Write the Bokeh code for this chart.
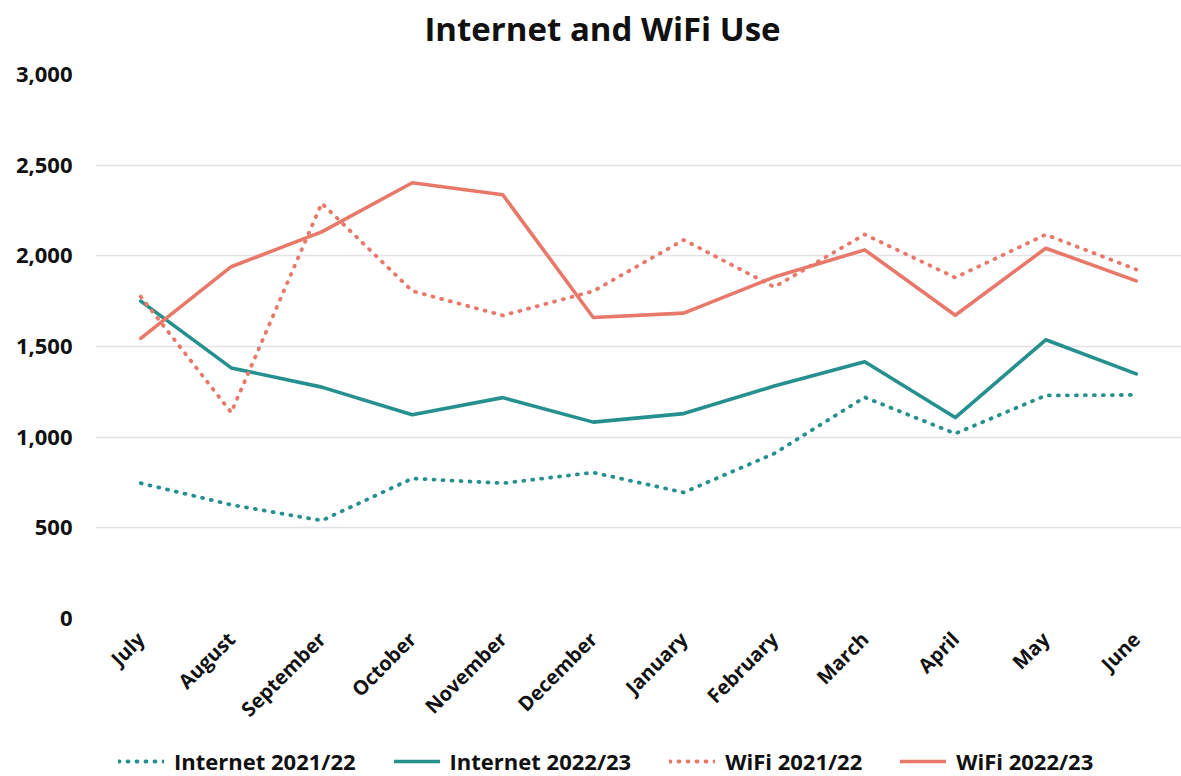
from math import pi

from bokeh.embed import file_html
from bokeh.layouts import column
from bokeh.models import (ColumnDataSource, Legend, LegendItem, NumeralTickFormatter,
                          FixedTicker, Range1d, Label)
from bokeh.plotting import figure
from bokeh.resources import INLINE

# Monthly counts, financial year July–June
months = ["July", "August", "September", "October", "November", "December",
          "January", "February", "March", "April", "May", "June"]
internet_2122 = [746, 627, 540, 772, 746, 805, 695, 910, 1220, 1020, 1230, 1233]
internet_2223 = [1750, 1382, 1276, 1124, 1218, 1083, 1130, 1282, 1416, 1108, 1537, 1349]
wifi_2122 = [1775, 1136, 2290, 1806, 1671, 1805, 2088, 1828, 2118, 1880, 2117, 1925]
wifi_2223 = [1545, 1940, 2132, 2403, 2337, 1660, 1684, 1883, 2033, 1672, 2042, 1862]
y_ticks = [0, 500, 1000, 1500, 2000, 2500, 3000]
series_labels = ["Internet 2021/22", "Internet 2022/23", "WiFi 2021/22", "WiFi 2022/23"]
chart_title = "Internet and WiFi Use"

TEAL = "#25908e"
SALMON = "#e8796a"
FONT = "Open Sans"
INK = "#111111"
W = 1181
LEFT = 95  # left border of the chart; the column aligns every strip's frame to it

source = ColumnDataSource(dict(
    month=months,
    internet_2122=internet_2122,
    internet_2223=internet_2223,
    wifi_2122=wifi_2122,
    wifi_2223=wifi_2223,
))

dot = dict(line_width=3.8, line_dash="1 8", line_cap="round", line_join="round")
solid = dict(line_width=3.6, line_cap="round", line_join="round")
styles = [(TEAL, dot), (TEAL, solid), (SALMON, dot), (SALMON, solid)]
columns = ["internet_2122", "internet_2223", "wifi_2122", "wifi_2223"]


def bare(fig):
    fig.grid.grid_line_color = None
    fig.outline_line_color = None
    fig.background_fill_color = "white"
    fig.border_fill_color = "white"


# --- title strip (x range in page pixels across the aligned frame) ---
head = figure(width=W, height=56, x_range=Range1d(LEFT, W), y_range=Range1d(0, 56),
              x_axis_location=None, y_axis_location=None,
              output_backend="svg", toolbar_location=None,
              min_border_left=LEFT, min_border_right=0, min_border_top=0, min_border_bottom=0)
bare(head)
head.add_layout(Label(
    x=602, y=28, text=chart_title, text_align="center", text_baseline="middle",
    text_font=FONT, text_font_size="33px", text_font_style="bold", text_color=INK,
))

# --- main chart ---
p = figure(
    width=W, height=680,
    x_range=months,
    y_range=Range1d(0, 3000),
    output_backend="svg",
    toolbar_location=None,
    min_border_left=LEFT, min_border_right=0, min_border_top=18, min_border_bottom=118,
)
p.outline_line_color = None
p.background_fill_color = "white"
p.border_fill_color = "white"

p.xaxis.axis_line_color = None
p.yaxis.axis_line_color = None
p.xaxis.major_tick_line_color = None
p.yaxis.major_tick_line_color = None
p.xaxis.minor_tick_line_color = None
p.yaxis.minor_tick_line_color = None
p.xaxis.major_tick_out = 0
p.yaxis.major_tick_out = 0
p.xaxis.major_label_orientation = pi / 4
p.xaxis.major_label_standoff = 17
p.yaxis.major_label_standoff = 23
p.yaxis.ticker = FixedTicker(ticks=y_ticks)
p.yaxis.formatter = NumeralTickFormatter(format="0,0")
for ax in (p.xaxis, p.yaxis):
    ax.major_label_text_font = FONT
    ax.major_label_text_font_style = "bold"
    ax.major_label_text_color = INK
p.yaxis.major_label_text_font_size = "22px"
p.xaxis.major_label_text_font_size = "20px"

p.xgrid.grid_line_color = None
p.ygrid.grid_line_color = "#e2e2e8"
p.ygrid.grid_line_width = 1.5

for col, (color, style) in zip(columns, styles):
    p.line("month", col, source=source, line_color=color, **style)

# --- legend strip: same series, drawn outside its visible range so only the key shows ---
key = figure(width=W, height=40, x_range=months, y_range=Range1d(10000, 10001),
             x_axis_location=None, y_axis_location=None,
             output_backend="svg", toolbar_location=None,
             min_border_left=LEFT, min_border_right=0, min_border_top=0, min_border_bottom=0)
bare(key)
key_renderers = [key.line("month", col, source=source, line_color=color, **style)
                 for col, (color, style) in zip(columns, styles)]

legend = Legend(
    items=[LegendItem(label=lab, renderers=[r]) for lab, r in zip(series_labels, key_renderers)],
    orientation="horizontal",
    location=(118 - LEFT, 0),
    glyph_width=46,
    glyph_height=18,
    label_standoff=10,
    spacing=38,
    label_text_font=FONT,
    label_text_font_size="22px",
    label_text_font_style="bold",
    label_text_color=INK,
    border_line_color=None,
    background_fill_alpha=0,
    padding=0,
    margin=0,
)
key.add_layout(legend, "center")

layout = column(head, p, key, spacing=0)
open("out.html", "w").write(file_html(layout, INLINE))
